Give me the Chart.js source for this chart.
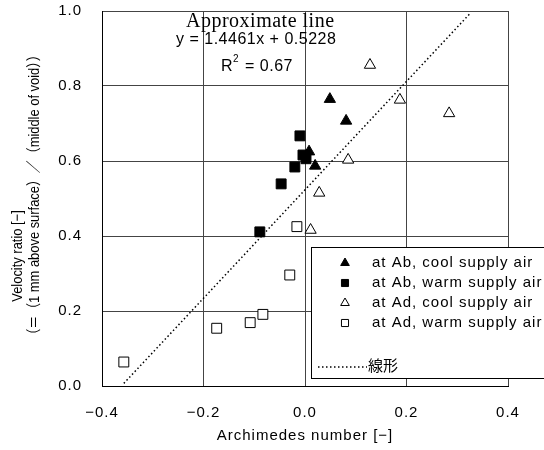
<!DOCTYPE html>
<html>
<head>
<meta charset="utf-8">
<script src="https://cdn.jsdelivr.net/npm/chart.js@4/dist/chart.umd.min.js"></script>
<style>
html, body { margin: 0; padding: 0; background: #fff; }
#wrap { width: 544px; height: 450px; position: relative; }
</style>
</head>
<body>
<div id="wrap"><canvas id="chart" width="544" height="450"></canvas></div>
<script>
// valores
const abCoolX = [0.049, 0.081, 0.008, 0.020];
const abCoolY = [0.765, 0.707, 0.625, 0.587];

const abWarmX = [-0.010, -0.004, 0.002, -0.020, -0.047, -0.089];
const abWarmY = [0.667, 0.616, 0.606, 0.584, 0.539, 0.411];

const adCoolX = [0.128, 0.187, 0.284, 0.085, 0.028, 0.011];
const adCoolY = [0.856, 0.763, 0.727, 0.603, 0.515, 0.416];

const adWarmX = [-0.016, -0.030, -0.083, -0.108, -0.174, -0.357];
const adWarmY = [0.425, 0.296, 0.191, 0.169, 0.154, 0.064];

// linha de tendência (extremos)
const lineX = [-0.357, 0.325];
const lineY = [0.007, 0.993];

const seriesLabels = [
    'at Ab, cool supply air',
    'at Ab, warm supply air',
    'at Ad, cool supply air',
    'at Ad, warm supply air',
    '線形'
];
const xTicks = [-0.4, -0.2, 0.0, 0.2, 0.4];
const yTicks = [0.0, 0.2, 0.4, 0.6, 0.8, 1.0];

const SANS = '"Liberation Sans", Arial, "Noto Sans CJK JP", sans-serif';

function pares(xs, ys) {
    return xs.map((x, i) => ({ x: x, y: ys[i] }));
}

function fmt(v) {
    if (Math.abs(v) < 1e-9) return '0.0';
    return (v < 0 ? '\u2212' : '') + Math.abs(v).toFixed(1);
}

// marcador simples para a legenda
function marcador(c, tipo, cheio, x, y, r) {
    c.beginPath();
    if (tipo === 'triangle') {
        c.moveTo(x, y - r);
        c.lineTo(x + r * 0.866, y + r * 0.5);
        c.lineTo(x - r * 0.866, y + r * 0.5);
        c.closePath();
    } else {
        const s = r * 0.707;
        c.rect(x - s, y - s, 2 * s, 2 * s);
    }
    c.fillStyle = cheio ? '#000' : '#fff';
    c.fill();
    c.lineWidth = 1;
    c.strokeStyle = '#000';
    c.stroke();
}

// texto vertical (eixo Y), um pouco comprimido como a fonte original
function textoVertical(c, txt, x, y) {
    c.save();
    c.translate(x, y);
    c.rotate(-Math.PI / 2);
    c.scale(0.86, 1);
    c.fillText(txt, 0, 0);
    c.restore();
}

// espaçamento de letras parecido com a fonte japonesa do Excel
const pluginEspaco = {
    id: 'espaco',
    beforeLayout(chart) { chart.ctx.letterSpacing = '1px'; },
    beforeDraw(chart) { chart.ctx.letterSpacing = '1px'; }
};

// textos da equação, título do eixo Y e legenda
const pluginTextos = {
    id: 'textos',
    afterDatasetsDraw(chart) {
        const c = chart.ctx;
        const a = chart.chartArea;
        c.save();
        c.fillStyle = '#000';
        c.textBaseline = 'alphabetic';
        c.textAlign = 'left';

        c.letterSpacing = '0.5px';
        c.font = '20px "Liberation Serif", "Times New Roman", serif';
        c.fillText('Approximate line', a.left + 84, a.top + 16);

        c.font = '16px ' + SANS;
        c.fillText('y = 1.4461x + 0.5228', a.left + 74, a.top + 33);
        c.fillText('R', a.left + 119, a.top + 60);
        c.fillText('= 0.67', a.left + 143, a.top + 60);
        c.font = '10px ' + SANS;
        c.fillText('2', a.left + 131, a.top + 51);

        // título do eixo Y em duas linhas
        c.letterSpacing = '0px';
        c.font = '15px ' + SANS;
        c.textAlign = 'center';
        c.textBaseline = 'middle';
        textoVertical(c, 'Velocity ratio [\u2212]', 18, 256);
        textoVertical(c, '\uFF08\uFF1D\uFF081 mm above surface\uFF09\uFF0F\uFF08middle of void\uFF09\uFF09', 35, 195);

        // legenda dentro da área do gráfico
        const bx = 311, by = 247, bw = 260, bh = 132;
        c.fillStyle = '#fff';
        c.fillRect(bx, by, bw, bh);
        c.strokeStyle = '#000';
        c.lineWidth = 1;
        c.strokeRect(bx + 0.5, by + 0.5, bw, bh - 1);

        const ds = chart.data.datasets;
        const linhas = [263, 283, 303, 323];
        c.letterSpacing = '1px';
        c.font = '15px ' + SANS;
        c.textAlign = 'left';
        c.textBaseline = 'middle';
        for (let i = 0; i < 4; i++) {
            const d = ds[i];
            marcador(c, d.pointStyle, d.backgroundColor === '#000', 345, linhas[i], 5);
            c.fillStyle = '#000';
            c.fillText(d.label, 372, linhas[i]);
        }
        c.beginPath();
        c.setLineDash([1.5, 2.5]);
        c.lineWidth = 1.5;
        c.moveTo(318, 367);
        c.lineTo(367, 367);
        c.stroke();
        c.setLineDash([]);
        c.letterSpacing = '0px';
        c.fillText(ds[4].label, 368, 367);
        c.restore();
    }
};

new Chart(document.getElementById('chart'), {
    type: 'scatter',
    data: {
        datasets: [
            {
                label: seriesLabels[0],
                data: pares(abCoolX, abCoolY),
                pointStyle: 'triangle',
                pointRadius: 6.5,
                backgroundColor: '#000',
                borderColor: '#000',
                borderWidth: 1
            },
            {
                label: seriesLabels[1],
                data: pares(abWarmX, abWarmY),
                pointStyle: 'rect',
                pointRadius: 7,
                backgroundColor: '#000',
                borderColor: '#000',
                borderWidth: 1
            },
            {
                label: seriesLabels[2],
                data: pares(adCoolX, adCoolY),
                pointStyle: 'triangle',
                pointRadius: 6.5,
                backgroundColor: '#fff',
                borderColor: '#000',
                borderWidth: 1
            },
            {
                label: seriesLabels[3],
                data: pares(adWarmX, adWarmY),
                pointStyle: 'rect',
                pointRadius: 7,
                backgroundColor: '#fff',
                borderColor: '#000',
                borderWidth: 1
            },
            {
                label: seriesLabels[4],
                data: pares(lineX, lineY),
                showLine: true,
                pointRadius: 0,
                borderColor: '#000',
                borderWidth: 1.5,
                borderDash: [1.5, 2.5],
                fill: false
            }
        ]
    },
    options: {
        responsive: false,
        animation: false,
        layout: {
            padding: { left: 0, right: 36, top: 11, bottom: 0 }
        },
        plugins: {
            legend: { display: false },
            tooltip: { enabled: false }
        },
        scales: {
            x: {
                type: 'linear',
                min: xTicks[0],
                max: xTicks[xTicks.length - 1],
                afterFit(s) { s.height = 64; s.paddingLeft = 0; s.paddingRight = 0; },
                afterBuildTicks(s) { s.ticks = xTicks.map(v => ({ value: v })); },
                grid: { color: '#444', lineWidth: 1, drawTicks: false },
                border: { display: true, color: '#000', width: 1 },
                ticks: {
                    color: '#000',
                    padding: 18,
                    maxRotation: 0,
                    font: { family: SANS, size: 15 },
                    callback: v => fmt(v)
                },
                title: {
                    display: true,
                    text: 'Archimedes number [\u2212]',
                    color: '#000',
                    font: { family: SANS, size: 15 },
                    padding: { top: 0, bottom: 5 }
                }
            },
            y: {
                type: 'linear',
                min: yTicks[0],
                max: yTicks[yTicks.length - 1],
                afterFit(s) { s.width = 102; s.paddingTop = 0; s.paddingBottom = 0; },
                afterBuildTicks(s) { s.ticks = yTicks.map(v => ({ value: v })); },
                grid: { color: '#444', lineWidth: 1, drawTicks: false },
                border: { display: true, color: '#000', width: 1 },
                ticks: {
                    color: '#000',
                    padding: 20,
                    font: { family: SANS, size: 15 },
                    callback: v => fmt(v)
                }
            }
        }
    },
    plugins: [pluginEspaco, pluginTextos]
});
</script>
</body>
</html>
